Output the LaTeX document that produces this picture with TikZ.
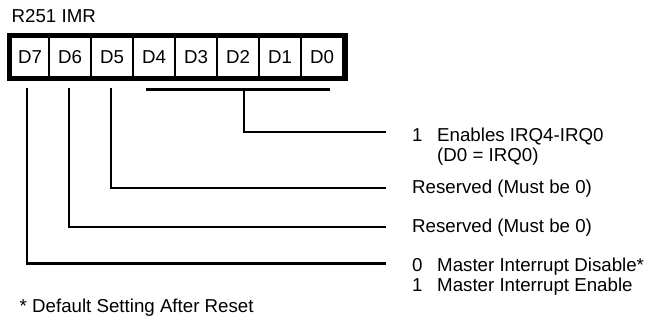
\documentclass[tikz,border=0pt]{standalone}
\usepackage{fontspec}
\setmainfont{Liberation Sans}
\usetikzlibrary{positioning,calc}

\begin{document}
\begin{tikzpicture}[
  x=1pt, y=-1pt,
  font=\fontsize{18.7}{20}\selectfont,
  cell/.style={draw, line width=2pt, minimum width=42pt, minimum height=40pt,
               inner sep=0pt, outer sep=0pt},
  frame/.style={draw, line width=4.5pt},
  wire/.style={draw, line width=2.9pt},
  lbl/.style={anchor=base west, inner sep=0pt}
]
\useasboundingbox (0,0) rectangle (646,328);
\node[lbl] (title) at (11.5,23) {R251 IMR};
% register bits
\node[cell, minimum width=38pt] (d7) at (30,57) {D7};
\node[cell, right=0pt of d7] (d6) {D6};
\node[cell, right=0pt of d6] (d5) {D5};
\node[cell, right=0pt of d5] (d4) {D4};
\node[cell, right=0pt of d4] (d3) {D3};
\node[cell, right=0pt of d3] (d2) {D2};
\node[cell, right=0pt of d2] (d1) {D1};
\node[cell, right=0pt of d1] (d0) {D0};
\draw[frame] ([shift={(-1.5,-1.5)}]d7.north west) rectangle ([shift={(2.5,1.5)}]d0.south east);
% line ends
\coordinate (t7) at (27,88);
\coordinate (t6) at (69,88);
\coordinate (t5) at (111,88);
\coordinate (bl) at (146,89.5);
\coordinate (br) at (330,89.5);
\coordinate (bm) at (244,89.5);
\coordinate (e0) at (386,132);
\coordinate (e5) at (386,188);
\coordinate (e6) at (386,227);
\coordinate (e7) at (386,263.5);
\draw[wire] (bl) -- (br);
\draw[wire] (bm) |- (e0);
\draw[wire] (t5) |- (e5);
\draw[wire] (t6) |- (e6);
\draw[wire] (t7) |- (e7);
% bit descriptions
\node[lbl] (l0) at ($(e0)+(26,9.5)$)
     {\begin{tabular}[t]{@{}p{25pt}@{}l@{}}1 & Enables IRQ4-IRQ0\\ & (D0 = IRQ0)\end{tabular}};
\node[lbl] (l5) at ($(e5)+(26,6)$) {Reserved (Must be 0)};
\node[lbl] (l6) at ($(e6)+(26,6)$) {Reserved (Must be 0)};
\node[lbl] (l7) at ($(e7)+(26,8)$)
     {\begin{tabular}[t]{@{}p{25pt}@{}l@{}}0 & Master Interrupt Disable*\\1 & Master Interrupt Enable\end{tabular}};
\node[lbl] (note) at (19.5,313) {* Default Setting After Reset};
\end{tikzpicture}
\end{document}
